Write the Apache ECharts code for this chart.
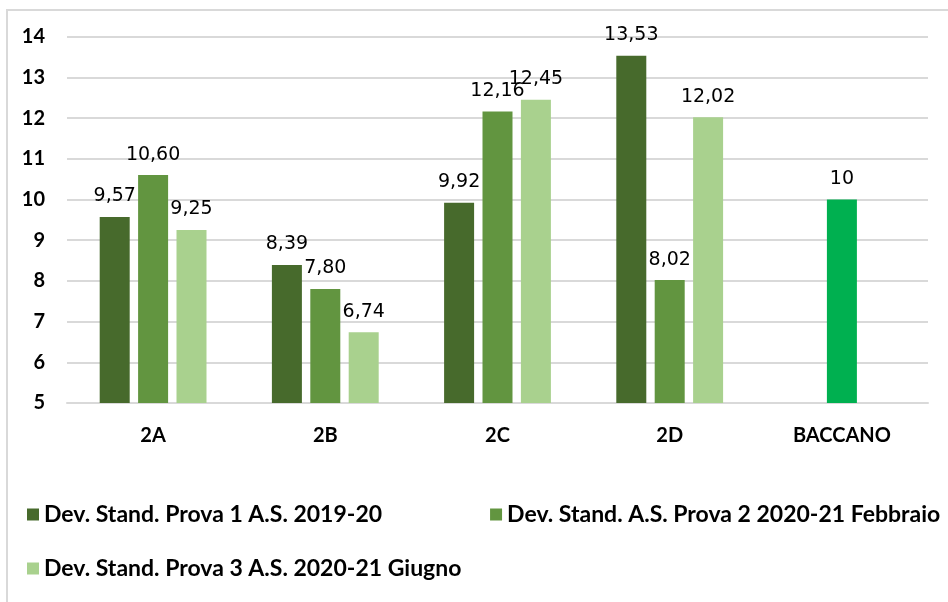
<!DOCTYPE html>
<html>
<head>
<meta charset="utf-8">
<script src="https://cdn.jsdelivr.net/npm/echarts@6/dist/echarts.min.js"></script>
<style>html,body{margin:0;padding:0;background:#fff;}#c{width:948px;height:602px;}</style>
</head>
<body>
<div id="c"></div>
<script>
var categories = ['2A', '2B', '2C', '2D', 'BACCANO'];
var seriesNames = ['Dev. Stand. Prova 1 A.S. 2019-20', 'Dev. Stand. A.S. Prova 2 2020-21 Febbraio', 'Dev. Stand. Prova 3 A.S. 2020-21 Giugno'];
var prova1 = [9.57, 8.39, 9.92, 13.53, null];
var prova2 = [10.60, 7.80, 12.16, 8.02, 10];
var prova3 = [9.25, 6.74, 12.45, 12.02, null];
var yTicks = [5, 6, 7, 8, 9, 10, 11, 12, 13, 14];
var colors = ['#476A2C', '#629540', '#A9D18E'];
var baccanoColor = '#00B050';

var chart = echarts.init(document.getElementById('c'), null, {renderer: 'canvas'});
function fmt(p) {
  if (p.value == null) return '';
  if (p.name === 'BACCANO') return String(p.value);
  return p.value.toFixed(2).replace('.', ',');
}
var labelStyle = {show: true, position: 'top', distance: 11, formatter: fmt, fontFamily: 'DejaVu Sans', fontSize: 19, color: '#000'};
function mk(i, data) {
  return {
    name: seriesNames[i], type: 'bar', barWidth: 30, barGap: '28%',
    itemStyle: {color: colors[i]},
    label: labelStyle,
    data: data.map(function (v, k) {
      if (categories[k] === 'BACCANO' && v != null) return {value: v, itemStyle: {color: baccanoColor}};
      return v;
    })
  };
}
var legendText = {fontFamily: 'Lato', fontWeight: 'bold', fontSize: 23, color: '#000'};
chart.setOption({
  animation: false,
  backgroundColor: '#fff',
  graphic: [{type: 'rect', shape: {x: 7, y: 10, width: 960, height: 620}, style: {fill: 'none', stroke: '#D9D9D9', lineWidth: 2}}],
  grid: {left: 67, right: 20, top: 36.7, bottom: 199},
  legend: [
    {data: [seriesNames[0], seriesNames[1]], left: 22, top: 498, itemWidth: 12, itemHeight: 12, itemGap: 108, icon: 'rect', textStyle: legendText, selectedMode: false},
    {data: [seriesNames[2]], left: 22, top: 552, itemWidth: 12, itemHeight: 12, icon: 'rect', textStyle: legendText, selectedMode: false}
  ],
  xAxis: {
    type: 'category', data: categories,
    axisLine: {lineStyle: {color: '#D9D9D9', width: 2}},
    axisTick: {show: false},
    axisLabel: {margin: 23, fontFamily: 'Lato', fontWeight: 'bold', fontSize: 20, color: '#000'}
  },
  yAxis: {
    type: 'value', min: yTicks[0], max: yTicks[yTicks.length - 1], interval: 1,
    axisLine: {show: false}, axisTick: {show: false},
    splitLine: {lineStyle: {color: '#D9D9D9', width: 2}},
    axisLabel: {margin: 22, fontFamily: 'Lato', fontWeight: 'bold', fontSize: 20, color: '#000'}
  },
  series: [mk(0, prova1), mk(1, prova2), mk(2, prova3)]
});
</script>
</body>
</html>
